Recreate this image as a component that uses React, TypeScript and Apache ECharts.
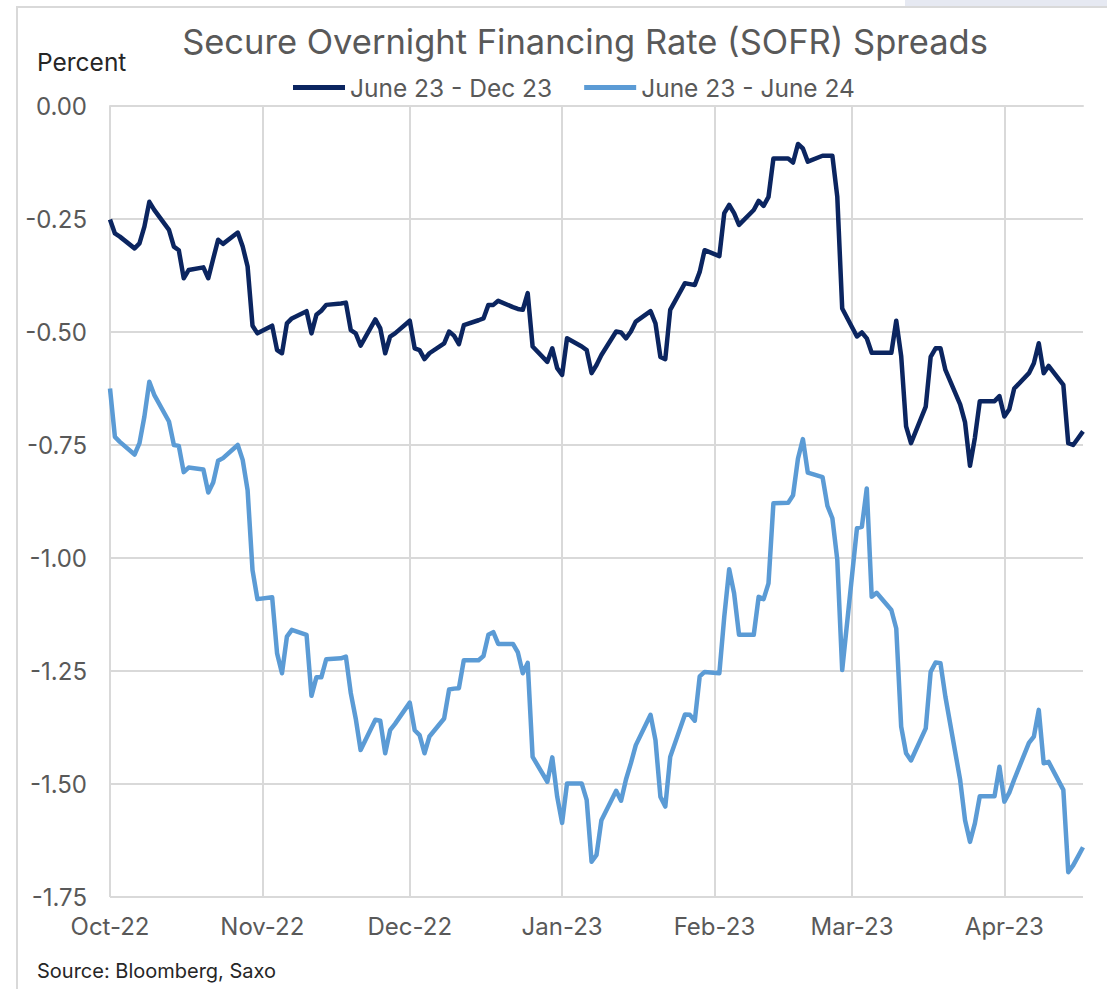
import React, { useEffect, useRef } from "react";
import * as echarts from "echarts";

// ---- data ----
const startDate = "2022-10-05"; // first trading day shown (axis start)
const endDate = "2023-04-21"; // last trading day shown (axis end)
const seriesNames = ["June 23 - Dec 23", "June 23 - June 24"];
const monthNames = ["Jan", "Feb", "Mar", "Apr", "May", "Jun", "Jul", "Aug", "Sep", "Oct", "Nov", "Dec"];
const yMin = -1.75;
const yMax = 0;
const yStep = 0.25;

// values per trading day (Mon–Fri), in order from startDate
const spreadJun23Dec23 = [
  -0.251, -0.282, -0.289,
  -0.315, -0.304, -0.267, -0.212, -0.230,
  -0.274, -0.311, -0.319, -0.381, -0.363,
  -0.357, -0.381, -0.338, -0.296, -0.305,
  -0.280, -0.311, -0.355, -0.486, -0.503,
  -0.486, -0.540, -0.547, -0.481, -0.470,
  -0.454, -0.503, -0.462, -0.453, -0.440,
  -0.437, -0.435, -0.496, -0.503, -0.530,
  -0.472, -0.492, -0.547, -0.510, -0.503,
  -0.475, -0.536, -0.540, -0.560, -0.547,
  -0.525, -0.499, -0.508, -0.527, -0.485,
  -0.474, -0.470, -0.440, -0.440, -0.431,
  -0.445, -0.449, -0.451, -0.414, -0.532,
  -0.566, -0.536, -0.580, -0.595, -0.514,
  -0.532, -0.540, -0.591, -0.573, -0.551,
  -0.499, -0.501, -0.514, -0.499, -0.477,
  -0.454, -0.481, -0.555, -0.560, -0.451,
  -0.392, -0.394, -0.396, -0.367, -0.319,
  -0.332, -0.237, -0.219, -0.237, -0.263,
  -0.230, -0.210, -0.221, -0.201, -0.116,
  -0.116, -0.125, -0.084, -0.094, -0.123,
  -0.110, -0.110, -0.110, -0.201, -0.448,
  -0.510, -0.501, -0.514, -0.546, -0.546,
  -0.546, -0.475, -0.553, -0.709, -0.746,
  -0.665, -0.555, -0.536, -0.536, -0.584,
  -0.660, -0.700, -0.796, -0.734, -0.653,
  -0.653, -0.642, -0.687, -0.671, -0.625,
  -0.591, -0.569, -0.525, -0.591, -0.575,
  -0.617, -0.746, -0.750, -0.735, -0.720,
];

const spreadJun23Jun24 = [
  -0.625, -0.732, -0.743,
  -0.771, -0.746, -0.687, -0.610, -0.639,
  -0.698, -0.750, -0.752, -0.810, -0.800,
  -0.804, -0.855, -0.833, -0.785, -0.779,
  -0.750, -0.783, -0.850, -1.027, -1.091,
  -1.087, -1.211, -1.255, -1.174, -1.159,
  -1.170, -1.305, -1.264, -1.264, -1.224,
  -1.222, -1.218, -1.299, -1.355, -1.425,
  -1.358, -1.360, -1.432, -1.381, -1.367,
  -1.320, -1.381, -1.392, -1.432, -1.395,
  -1.355, -1.291, -1.289, -1.288, -1.226,
  -1.226, -1.217, -1.170, -1.164, -1.190,
  -1.190, -1.209, -1.255, -1.232, -1.440,
  -1.495, -1.441, -1.528, -1.586, -1.499,
  -1.499, -1.535, -1.672, -1.657, -1.580,
  -1.515, -1.537, -1.490, -1.454, -1.414,
  -1.347, -1.403, -1.528, -1.550, -1.440,
  -1.346, -1.347, -1.360, -1.262, -1.252,
  -1.255, -1.130, -1.025, -1.078, -1.170,
  -1.170, -1.086, -1.091, -1.056, -0.879,
  -0.878, -0.861, -0.780, -0.737, -0.811,
  -0.821, -0.885, -0.912, -1.004, -1.248,
  -0.934, -0.931, -0.846, -1.086, -1.077,
  -1.115, -1.156, -1.373, -1.432, -1.448,
  -1.377, -1.252, -1.231, -1.233, -1.307,
  -1.491, -1.580, -1.628, -1.587, -1.527,
  -1.527, -1.462, -1.539, -1.519, -1.490,
  -1.409, -1.395, -1.336, -1.454, -1.451,
  -1.513, -1.695, -1.680, -1.660, -1.640,
];

// ---- helpers ----
const DAY = 86400000;
function parseUTC(s: string) {
  const [y, m, d] = s.split("-").map(Number);
  return Date.UTC(y, m - 1, d);
}
function iso(t: number) {
  return new Date(t).toISOString().slice(0, 10);
}

function buildCalendar() {
  const days: string[] = [];
  const a: (number | null)[] = [];
  const b: (number | null)[] = [];
  let k = 0;
  for (let t = parseUTC(startDate); t <= parseUTC(endDate); t += DAY) {
    const wd = new Date(t).getUTCDay();
    days.push(iso(t));
    if (wd !== 0 && wd !== 6 && k < spreadJun23Dec23.length) {
      a.push(spreadJun23Dec23[k]);
      b.push(spreadJun23Jun24[k]);
      k++;
    } else {
      a.push(null);
      b.push(null);
    }
  }
  return { days, a, b };
}

const startDay = Number(startDate.slice(8, 10));
function isMonthTick(v: string) {
  return Number(v.slice(8, 10)) === startDay;
}
function monthLabel(v: string) {
  const m = Number(v.slice(5, 7));
  return `${monthNames[m - 1]}-${v.slice(2, 4)}`;
}

const FONT = "Inter, 'Noto Sans', sans-serif";

export default function App() {
  const ref = useRef<HTMLDivElement>(null);
  useEffect(() => {
    if (!ref.current) return;
    const chart = echarts.init(ref.current, undefined, { renderer: "svg" });
    const { days, a, b } = buildCalendar();
    chart.setOption({
      animation: false,
      backgroundColor: "#ffffff",
      grid: { left: 110, right: 24, top: 106, bottom: 92, containLabel: false },
      legend: {
        left: 288,
        top: 70,
        icon: "rect",
        itemWidth: 52,
        itemHeight: 5,
        itemGap: 32,
        textStyle: { color: "#595959", fontSize: 24.5, fontFamily: FONT },
        data: seriesNames,
      },
      xAxis: {
        type: "category",
        data: days,
        boundaryGap: false,
        axisLine: { show: true, lineStyle: { color: "#d9d9d9", width: 2 } },
        axisTick: { show: false },
        axisLabel: {
          interval: (_i: number, v: string) => isMonthTick(v),
          formatter: (v: string) => monthLabel(v),
          color: "#595959",
          fontSize: 24,
          fontFamily: FONT,
          margin: 17,
        },
        splitLine: {
          show: true,
          interval: (_i: number, v: string) => isMonthTick(v),
          lineStyle: { color: "#d9d9d9", width: 2 },
        },
      },
      yAxis: {
        type: "value",
        min: yMin,
        max: yMax,
        interval: yStep,
        axisLine: { show: false },
        axisTick: { show: false },
        axisLabel: {
          formatter: (v: number) => (Math.abs(v) < 1e-9 ? "0.00" : v.toFixed(2)),
          color: "#595959",
          fontSize: 24,
          fontFamily: FONT,
          margin: 23,
        },
        splitLine: { show: true, lineStyle: { color: "#d9d9d9", width: 2 } },
      },
      series: [
        {
          name: seriesNames[0],
          type: "line",
          data: a,
          connectNulls: true,
          showSymbol: false,
          symbol: "none",
          color: "#0b2560",
          lineStyle: { color: "#0b2560", width: 4.5, join: "round" },
          z: 3,
        },
        {
          name: seriesNames[1],
          type: "line",
          data: b,
          connectNulls: true,
          showSymbol: false,
          symbol: "none",
          color: "#5b9bd5",
          lineStyle: { color: "#5b9bd5", width: 4.5, join: "round" },
          z: 2,
        },
      ],
      graphic: [
        {
          type: "rect",
          silent: true,
          shape: { x: 905, y: 0, width: 210, height: 6 },
          style: { fill: "#e6e9f2" },
        },
        {
          type: "rect",
          silent: true,
          shape: { x: 17, y: 7, width: 1200, height: 1100 },
          style: { fill: "none", stroke: "#d9d9d9", lineWidth: 2 },
        },
        {
          type: "text",
          x: 585,
          y: 41,
          style: {
            text: "Secure Overnight Financing Rate (SOFR) Spreads",
            font: `34.5px ${FONT}`,
            fill: "#595959",
            align: "center",
            verticalAlign: "middle",
            textAlign: "center",
            textVerticalAlign: "middle",
          },
        },
        {
          type: "text",
          x: 37,
          y: 62,
          style: {
            text: "Percent",
            font: `24.5px ${FONT}`,
            fill: "#262626",
            align: "left",
            verticalAlign: "middle",
            textAlign: "left",
            textVerticalAlign: "middle",
          },
        },
        {
          type: "text",
          x: 37,
          y: 971,
          style: {
            text: "Source: Bloomberg, Saxo",
            font: `20px ${FONT}`,
            fill: "#262626",
            align: "left",
            verticalAlign: "middle",
            textAlign: "left",
            textVerticalAlign: "middle",
          },
        },
      ],
    });
    return () => chart.dispose();
  }, []);
  return (
    <div
      ref={ref}
      style={{ position: "fixed", left: 0, top: 0, width: 1107, height: 989, background: "#fff" }}
    />
  );
}
